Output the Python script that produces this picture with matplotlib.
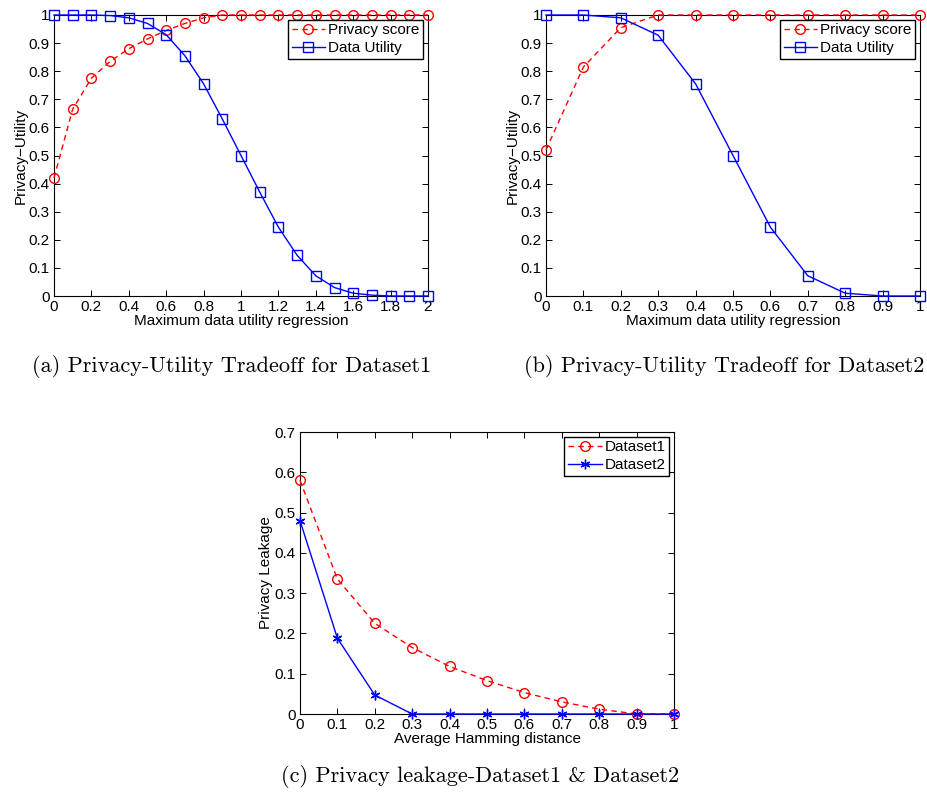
import matplotlib
matplotlib.use("Agg")
import matplotlib.pyplot as plt
import numpy as np

# ---- data ----
x_a = [0.0, 0.1, 0.2, 0.3, 0.4, 0.5, 0.6, 0.7, 0.8, 0.9, 1.0,
       1.1, 1.2, 1.3, 1.4, 1.5, 1.6, 1.7, 1.8, 1.9, 2.0]
privacy_a = [0.42, 0.665, 0.775, 0.835, 0.88, 0.915, 0.945, 0.97, 0.99, 1.0, 1.0,
             1.0, 1.0, 1.0, 1.0, 1.0, 1.0, 1.0, 1.0, 1.0, 1.0]
utility_a = [1.0, 1.0, 1.0, 0.998, 0.99, 0.97, 0.93, 0.855, 0.755, 0.63, 0.5,
             0.37, 0.245, 0.145, 0.072, 0.03, 0.01, 0.003, 0.0, 0.0, 0.0]

x_b = [0.0, 0.1, 0.2, 0.3, 0.4, 0.5, 0.6, 0.7, 0.8, 0.9, 1.0]
privacy_b = [0.52, 0.815, 0.955, 1.0, 1.0, 1.0, 1.0, 1.0, 1.0, 1.0, 1.0]
utility_b = [1.0, 1.0, 0.99, 0.928, 0.755, 0.5, 0.245, 0.072, 0.01, 0.0, 0.0]

x_c = [0.0, 0.1, 0.2, 0.3, 0.4, 0.5, 0.6, 0.7, 0.8, 0.9, 1.0]
leak_d1 = [0.58, 0.335, 0.225, 0.165, 0.118, 0.083, 0.053, 0.03, 0.012, 0.0, 0.0]
leak_d2 = [0.48, 0.188, 0.047, 0.0, 0.0, 0.0, 0.0, 0.0, 0.0, 0.0, 0.0]

captions = ["(a) Privacy-Utility Tradeoff for Dataset1",
            "(b) Privacy-Utility Tradeoff for Dataset2",
            "(c) Privacy leakage-Dataset1 & Dataset2"]

plt.rcParams['font.family'] = ['Liberation Sans', 'DejaVu Sans']
W, H = 927, 800
fig = plt.figure(figsize=(W / 100, H / 100), dpi=100)

FS = 11


def ax_at(x0, y0, x1, y1):
    return fig.add_axes([x0 / W, 1 - y1 / H, (x1 - x0) / W, (y1 - y0) / H])


def style(ax):
    ax.tick_params(direction='in', top=True, right=True, labelsize=FS,
                   length=4, width=0.7, pad=3)
    for s in ax.spines.values():
        s.set_linewidth(0.8)
        s.set_zorder(1)


def fmt(v):
    s = ('%.1f' % v)
    if s.endswith('.0'):
        s = s[:-2]
    return s


def legend(ax):
    leg = ax.legend(loc='upper right', fontsize=FS, frameon=True, fancybox=False,
                    edgecolor='black', borderpad=0.25, handlelength=2.2, handletextpad=0.2,
                    labelspacing=0.25, borderaxespad=0.3, framealpha=1)
    leg.get_frame().set_linewidth(1.0)
    return leg

red = '#ff0000'
blue = '#0000ff'
circ = dict(color=red, mfc='none', ms=7, lw=1.0, mew=1.0, clip_on=False, zorder=3,
            dashes=(4, 3))
sq = dict(color=blue, mfc='none', ms=6.5, lw=1.0, mew=1.0, clip_on=False, zorder=3)

# (a)
ax = ax_at(54, 15, 428, 296)
ax.plot(x_a, privacy_a, '--o', label='Privacy score', **circ)
ax.plot(x_a, utility_a, '-s', label='Data Utility', **sq)
ax.set_xlim(0, 2)
ax.set_ylim(0, 1)
xt = np.round(np.arange(0, 2.01, 0.2), 1)
ax.set_xticks(xt)
ax.set_xticklabels([fmt(v) for v in xt])
yt = np.round(np.arange(0, 1.01, 0.1), 1)
ax.set_yticks(yt)
ax.set_yticklabels([fmt(v) for v in yt])
ax.set_xlabel('Maximum data utility regression', fontsize=FS, labelpad=0)
ax.set_ylabel('Privacy\u2212Utility', fontsize=FS, labelpad=1)
style(ax)
legend(ax)

# (b)
ax = ax_at(546, 15, 920, 296)
ax.plot(x_b, privacy_b, '--o', label='Privacy score', **circ)
ax.plot(x_b, utility_b, '-s', label='Data Utility', **sq)
ax.set_xlim(0, 1)
ax.set_ylim(0, 1)
xt = np.round(np.arange(0, 1.01, 0.1), 1)
ax.set_xticks(xt)
ax.set_xticklabels([fmt(v) for v in xt])
ax.set_yticks(yt)
ax.set_yticklabels([fmt(v) for v in yt])
ax.set_xlabel('Maximum data utility regression', fontsize=FS, labelpad=0)
ax.set_ylabel('Privacy\u2212Utility', fontsize=FS, labelpad=1)
style(ax)
legend(ax)

# (c)
ax = ax_at(300, 432, 674, 714)
ax.plot(x_c, leak_d1, '--o', label='Dataset1', **circ)
ax.plot(x_c, leak_d2, '-', marker=(6, 2, 0), color=blue, ms=7, lw=1.0, mew=1.0,
        clip_on=False, zorder=3, label='Dataset2')
ax.set_xlim(0, 1)
ax.set_ylim(0, 0.7)
ax.set_xticks(xt)
ax.set_xticklabels([fmt(v) for v in xt])
yt2 = np.round(np.arange(0, 0.71, 0.1), 1)
ax.set_yticks(yt2)
ax.set_yticklabels([fmt(v) for v in yt2])
ax.set_xlabel('Average Hamming distance', fontsize=FS, labelpad=0)
ax.set_ylabel('Privacy Leakage', fontsize=FS, labelpad=1)
style(ax)
legend(ax)

# captions
cap_kw = dict(fontsize=16, family=['cmr10', 'DejaVu Serif'], ha='center', va='center')
fig.text(232 / W, 1 - 366 / H, captions[0], **cap_kw)
fig.text(724 / W, 1 - 366 / H, captions[1], **cap_kw)
fig.text(480 / W, 1 - 776 / H, captions[2], **cap_kw)

fig.savefig('out.png', dpi=100)
